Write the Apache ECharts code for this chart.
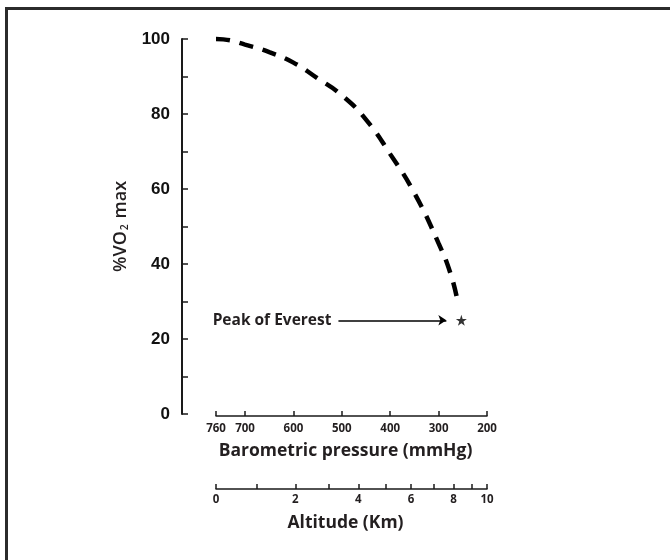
<!DOCTYPE html>
<html>
<head>
<meta charset="utf-8">
<script src="https://cdn.jsdelivr.net/npm/echarts@6/dist/echarts.min.js"></script>
<style>
html,body{margin:0;padding:0;background:#fff;}
#chart{width:670px;height:560px;}
</style>
</head>
<body>
<div id="chart"></div>
<script>
// 曲线数据: 大气压(mmHg) -> %VO2 max
var pressure = [760, 745, 700, 650, 600, 550, 500, 450, 400, 350, 300, 275, 261];
var vo2 = [100, 99.9, 98.5, 96.5, 93.7, 89.5, 85, 78.5, 69.3, 58.9, 45.5, 37.3, 30.2];
// 珠峰顶
var everest = [253, 25];
var arrowFrom = [507, 25], arrowTo = [284, 25];
// 刻度
var pressureTicks = [760, 700, 600, 500, 400, 300, 200];
var altitudeKm = [0, 1, 2, 3, 4, 5, 6, 7, 8, 9, 10];
var altitudePressure = [760, 676, 596, 526, 466, 410, 357, 311, 269, 232, 200];
var altitudeLabelKm = [0, 2, 4, 6, 8, 10];

var chart;
init();
function init(){
	chart = echarts.init(document.getElementById("chart"));
	chart.setOption(getOption());
}

function getOption(){
	var curve = [];
	for (var i = 0; i < pressure.length; i++) curve.push([pressure[i], vo2[i]]);
	var altLabelVals = altitudeLabelKm.map(function(k){ return altitudePressure[altitudeKm.indexOf(k)]; });
	var axisColor = '#1a1a1a';
	var txt = '#231f20';
	var xBase = {
		type: 'value', position: 'bottom', inverse: true, min: 200, max: 760,
		gridIndex: 0, splitLine: {show: false},
		axisLine: {show: true, onZero: false, lineStyle: {color: axisColor, width: 1.5}},
		axisTick: {show: true, inside: true, length: 5, lineStyle: {color: axisColor, width: 1.5}},
		nameLocation: 'middle',
		nameTextStyle: {fontFamily: 'Open Sans', fontWeight: 'bold', fontSize: 17.5, color: txt, padding: [0, 12, 0, 0]}
	};
	return {
		animation: false,
		backgroundColor: '#fff',
		graphic: [{
			type: 'rect', silent: true,
			shape: {x: 6.5, y: 8.5, width: 700, height: 600},
			style: {fill: null, stroke: '#2b2b2b', lineWidth: 3}
		}],
		grid: {left: 216, right: 183, top: 39, bottom: 146},
		xAxis: [
			echarts.util.merge({
				offset: 2,
				name: 'Barometric pressure (mmHg)', nameGap: 26,
				axisTick: {customValues: pressureTicks},
				axisLabel: {customValues: pressureTicks, margin: 7, fontFamily: 'Open Sans', fontWeight: 'bold', fontSize: 11.5, color: txt}
			}, xBase, false),
			echarts.util.merge({
				offset: 75,
				name: 'Altitude (Km)', nameGap: 25,
				axisTick: {customValues: altitudePressure},
				axisLabel: {
					customValues: altLabelVals, margin: 5,
					fontFamily: 'Open Sans', fontWeight: 'bold', fontSize: 11.5, color: txt,
					formatter: function(v){
						var idx = altitudePressure.indexOf(v);
						return idx >= 0 ? String(altitudeKm[idx]) : '';
					}
				}
			}, xBase, false)
		],
		yAxis: {
			type: 'value', min: 0, max: 100, interval: 20, offset: 34,
			splitLine: {show: false},
			axisLine: {show: true, lineStyle: {color: axisColor, width: 2}},
			axisTick: {show: true, inside: true, length: 6, lineStyle: {color: axisColor, width: 1.5}},
			minorTick: {show: true, splitNumber: 2, length: 6, lineStyle: {color: axisColor, width: 1.5}},
			axisLabel: {margin: 12, fontFamily: 'Liberation Sans', fontWeight: 'bold', fontSize: 17, color: '#111'},
			name: '%VO{sub|2} max',
			nameLocation: 'middle', nameGap: 51, nameRotate: 90,
			nameTextStyle: {
				fontFamily: 'Open Sans', fontWeight: 600, fontSize: 18, color: txt,
				rich: {sub: {fontFamily: 'Open Sans', fontSize: 10.5, color: txt, verticalAlign: 'bottom', padding: [9, 1, 0, 1]}}
			}
		},
		series: [
			{
				name: 'VO2', type: 'line', xAxisIndex: 0, data: curve,
				smooth: true, symbol: 'none', clip: false,
				lineStyle: {color: '#000', width: 4.5, type: [14, 10], cap: 'butt'}
			},
			{
				name: 'Everest', type: 'scatter', xAxisIndex: 0, data: [everest],
				symbol: 'path://M50,0 L61.8,36.2 L100,36.2 L69.1,58.8 L80.9,95.1 L50,72.7 L19.1,95.1 L30.9,58.8 L0,36.2 L38.2,36.2 Z',
				symbolSize: 11, itemStyle: {color: '#000'},
				markLine: {
					silent: true, symbol: ['none', 'arrow'], symbolSize: 8,
					lineStyle: {color: '#000', width: 1.5, type: 'solid'},
					label: {show: true, position: 'start', distance: 7, formatter: 'Peak of Everest',
						fontFamily: 'Open Sans', fontWeight: 'bold', fontSize: 15.5, color: txt},
					data: [[{coord: arrowFrom}, {coord: arrowTo}]]
				}
			}
		]
	};
}
</script>
</body>
</html>
